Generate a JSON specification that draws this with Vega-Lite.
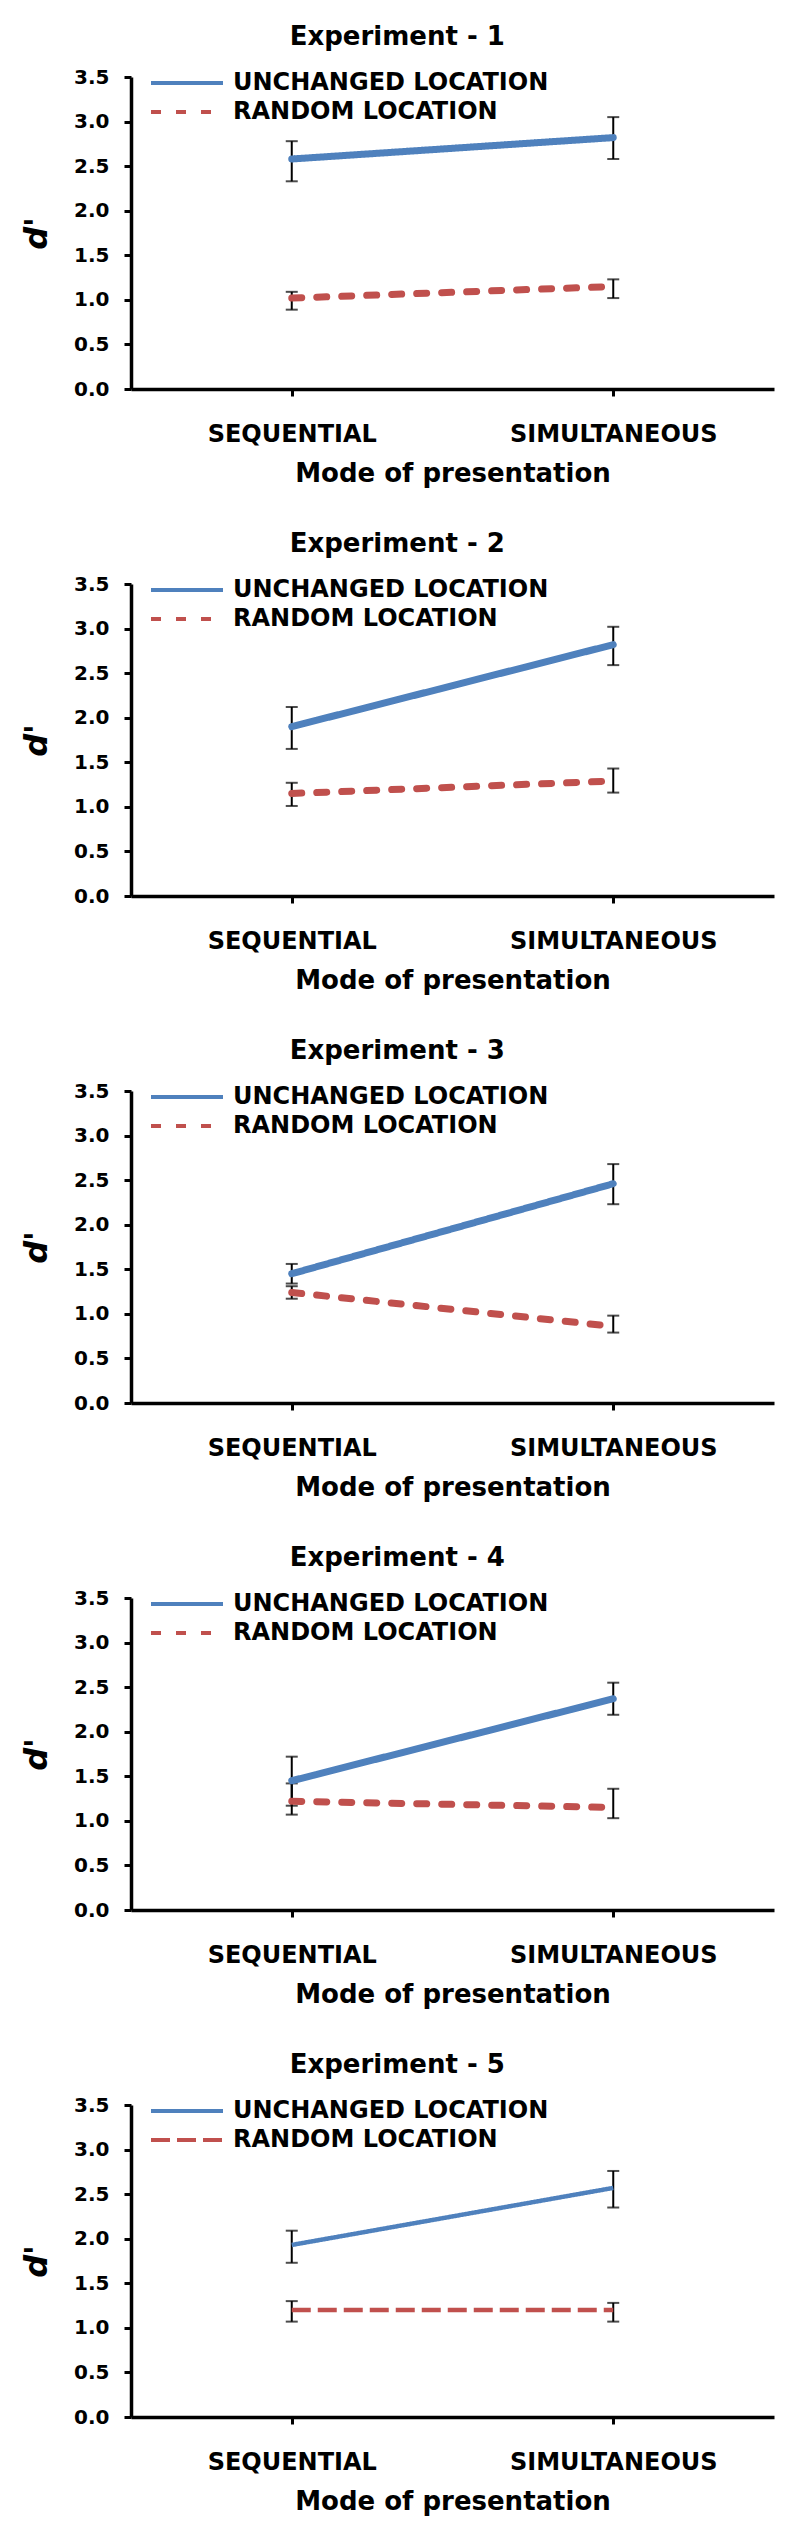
{
  "$schema": "https://vega.github.io/schema/vega-lite/v6.json",
  "padding": {"left": 20, "top": 24, "right": 5, "bottom": 5},
  "datasets": {
    "dprime": [
      {"experiment": 1, "mode": "SEQUENTIAL", "condition": "UNCHANGED LOCATION", "d": 2.58, "lo": 2.33, "hi": 2.78},
      {"experiment": 1, "mode": "SIMULTANEOUS", "condition": "UNCHANGED LOCATION", "d": 2.82, "lo": 2.58, "hi": 3.05},
      {"experiment": 1, "mode": "SEQUENTIAL", "condition": "RANDOM LOCATION", "d": 1.02, "lo": 0.89, "hi": 1.09},
      {"experiment": 1, "mode": "SIMULTANEOUS", "condition": "RANDOM LOCATION", "d": 1.15, "lo": 1.02, "hi": 1.23},
      {"experiment": 2, "mode": "SEQUENTIAL", "condition": "UNCHANGED LOCATION", "d": 1.9, "lo": 1.65, "hi": 2.12},
      {"experiment": 2, "mode": "SIMULTANEOUS", "condition": "UNCHANGED LOCATION", "d": 2.82, "lo": 2.59, "hi": 3.02},
      {"experiment": 2, "mode": "SEQUENTIAL", "condition": "RANDOM LOCATION", "d": 1.15, "lo": 1.01, "hi": 1.27},
      {"experiment": 2, "mode": "SIMULTANEOUS", "condition": "RANDOM LOCATION", "d": 1.29, "lo": 1.16, "hi": 1.43},
      {"experiment": 3, "mode": "SEQUENTIAL", "condition": "UNCHANGED LOCATION", "d": 1.45, "lo": 1.34, "hi": 1.56},
      {"experiment": 3, "mode": "SIMULTANEOUS", "condition": "UNCHANGED LOCATION", "d": 2.46, "lo": 2.23, "hi": 2.68},
      {"experiment": 3, "mode": "SEQUENTIAL", "condition": "RANDOM LOCATION", "d": 1.24, "lo": 1.17, "hi": 1.31},
      {"experiment": 3, "mode": "SIMULTANEOUS", "condition": "RANDOM LOCATION", "d": 0.86, "lo": 0.79, "hi": 0.98},
      {"experiment": 4, "mode": "SEQUENTIAL", "condition": "UNCHANGED LOCATION", "d": 1.45, "lo": 1.17, "hi": 1.72},
      {"experiment": 4, "mode": "SIMULTANEOUS", "condition": "UNCHANGED LOCATION", "d": 2.37, "lo": 2.19, "hi": 2.55},
      {"experiment": 4, "mode": "SEQUENTIAL", "condition": "RANDOM LOCATION", "d": 1.22, "lo": 1.07, "hi": 1.42},
      {"experiment": 4, "mode": "SIMULTANEOUS", "condition": "RANDOM LOCATION", "d": 1.15, "lo": 1.03, "hi": 1.36},
      {"experiment": 5, "mode": "SEQUENTIAL", "condition": "UNCHANGED LOCATION", "d": 1.93, "lo": 1.73, "hi": 2.09},
      {"experiment": 5, "mode": "SIMULTANEOUS", "condition": "UNCHANGED LOCATION", "d": 2.57, "lo": 2.35, "hi": 2.76},
      {"experiment": 5, "mode": "SEQUENTIAL", "condition": "RANDOM LOCATION", "d": 1.2, "lo": 1.07, "hi": 1.3},
      {"experiment": 5, "mode": "SIMULTANEOUS", "condition": "RANDOM LOCATION", "d": 1.2, "lo": 1.07, "hi": 1.28}
    ]
  },
  "config": {
    "font": "DejaVu Sans",
    "view": {"stroke": null},
    "concat": {"spacing": 45},
    "title": {"fontSize": 26, "fontWeight": "bold", "color": "black", "frame": "bounds", "anchor": "middle", "offset": 17},
    "axis": {
      "labelFontWeight": "bold", "labelColor": "black",
      "titleFontWeight": "bold", "titleColor": "black",
      "domainColor": "black", "tickColor": "black", "grid": false,
      "domainWidth": 3.5, "tickWidth": 3, "tickSize": 7, "labelLimit": 400
    },
    "axisX": {"labelFontSize": 24, "labelPadding": 26, "titleFontSize": 26, "titlePadding": 14, "labelAngle": 0},
    "axisY": {"labelFontSize": 20, "labelPadding": 15, "titleFontSize": 32, "titleFontStyle": "italic", "titlePadding": 20},
    "legend": {
      "title": null, "labelFontSize": 24, "labelFontWeight": "bold", "labelColor": "black", "labelLimit": 500,
      "symbolType": "M-3,0H3", "symbolSize": 576, "symbolStrokeWidth": 4,
      "labelOffset": 32, "rowPadding": 3, "padding": 0
    },
    "tick": {"color": "black", "thickness": 2, "size": 12},
    "rule": {"color": "black", "strokeWidth": 2}
  },
  "resolve": {
    "scale": {"color": "independent", "strokeDash": "independent"},
    "legend": {"color": "independent", "strokeDash": "independent"}
  },
  "vconcat": [
    {
      "title": "Experiment - 1",
      "width": 643, "height": 312,
      "data": {"name": "dprime"},
      "transform": [{"filter": "datum.experiment == 1"}],
      "encoding": {
        "x": {"field": "mode", "type": "nominal", "title": "Mode of presentation", "scale": {"type": "point", "padding": 0.5}}
      },
      "layer": [
        {"mark": "rule", "encoding": {
          "y": {"field": "lo", "type": "quantitative", "title": "d'", "scale": {"domain": [0, 3.5], "nice": false}, "axis": {"format": ".1f", "tickCount": 8}},
          "y2": {"field": "hi"}}},
        {"mark": "tick", "encoding": {"y": {"field": "lo", "type": "quantitative", "title": "d'"}}},
        {"mark": "tick", "encoding": {"y": {"field": "hi", "type": "quantitative", "title": "d'"}}},
        {"mark": {"type": "line", "strokeWidth": 7, "strokeCap": "round"}, "encoding": {
          "y": {"field": "d", "type": "quantitative", "title": "d'"},
          "color": {"field": "condition", "type": "nominal", "scale": {"domain": ["UNCHANGED LOCATION", "RANDOM LOCATION"], "range": ["#4f81bd", "#c0504d"]},
            "legend": {"orient": "none", "legendX": 42, "legendY": -8, "encode": {"symbols": {"update": {"strokeDash": {"signal": "datum.value == 'RANDOM LOCATION' ? [11, 4] : null"}, "strokeCap": {"value": "butt"}, "strokeWidth": {"value": 4}}}}}},
          "strokeDash": {"field": "condition", "type": "nominal", "scale": {"domain": ["UNCHANGED LOCATION", "RANDOM LOCATION"], "range": [[1, 0], [10, 15]]}, "legend": null}
        }}
      ]
    },
    {
      "title": "Experiment - 2",
      "width": 643, "height": 312,
      "data": {"name": "dprime"},
      "transform": [{"filter": "datum.experiment == 2"}],
      "encoding": {
        "x": {"field": "mode", "type": "nominal", "title": "Mode of presentation", "scale": {"type": "point", "padding": 0.5}}
      },
      "layer": [
        {"mark": "rule", "encoding": {
          "y": {"field": "lo", "type": "quantitative", "title": "d'", "scale": {"domain": [0, 3.5], "nice": false}, "axis": {"format": ".1f", "tickCount": 8}},
          "y2": {"field": "hi"}}},
        {"mark": "tick", "encoding": {"y": {"field": "lo", "type": "quantitative", "title": "d'"}}},
        {"mark": "tick", "encoding": {"y": {"field": "hi", "type": "quantitative", "title": "d'"}}},
        {"mark": {"type": "line", "strokeWidth": 7, "strokeCap": "round"}, "encoding": {
          "y": {"field": "d", "type": "quantitative", "title": "d'"},
          "color": {"field": "condition", "type": "nominal", "scale": {"domain": ["UNCHANGED LOCATION", "RANDOM LOCATION"], "range": ["#4f81bd", "#c0504d"]},
            "legend": {"orient": "none", "legendX": 42, "legendY": -8, "encode": {"symbols": {"update": {"strokeDash": {"signal": "datum.value == 'RANDOM LOCATION' ? [11, 4] : null"}, "strokeCap": {"value": "butt"}, "strokeWidth": {"value": 4}}}}}},
          "strokeDash": {"field": "condition", "type": "nominal", "scale": {"domain": ["UNCHANGED LOCATION", "RANDOM LOCATION"], "range": [[1, 0], [10, 15]]}, "legend": null}
        }}
      ]
    },
    {
      "title": "Experiment - 3",
      "width": 643, "height": 312,
      "data": {"name": "dprime"},
      "transform": [{"filter": "datum.experiment == 3"}],
      "encoding": {
        "x": {"field": "mode", "type": "nominal", "title": "Mode of presentation", "scale": {"type": "point", "padding": 0.5}}
      },
      "layer": [
        {"mark": "rule", "encoding": {
          "y": {"field": "lo", "type": "quantitative", "title": "d'", "scale": {"domain": [0, 3.5], "nice": false}, "axis": {"format": ".1f", "tickCount": 8}},
          "y2": {"field": "hi"}}},
        {"mark": "tick", "encoding": {"y": {"field": "lo", "type": "quantitative", "title": "d'"}}},
        {"mark": "tick", "encoding": {"y": {"field": "hi", "type": "quantitative", "title": "d'"}}},
        {"mark": {"type": "line", "strokeWidth": 7, "strokeCap": "round"}, "encoding": {
          "y": {"field": "d", "type": "quantitative", "title": "d'"},
          "color": {"field": "condition", "type": "nominal", "scale": {"domain": ["UNCHANGED LOCATION", "RANDOM LOCATION"], "range": ["#4f81bd", "#c0504d"]},
            "legend": {"orient": "none", "legendX": 42, "legendY": -8, "encode": {"symbols": {"update": {"strokeDash": {"signal": "datum.value == 'RANDOM LOCATION' ? [11, 4] : null"}, "strokeCap": {"value": "butt"}, "strokeWidth": {"value": 4}}}}}},
          "strokeDash": {"field": "condition", "type": "nominal", "scale": {"domain": ["UNCHANGED LOCATION", "RANDOM LOCATION"], "range": [[1, 0], [10, 15]]}, "legend": null}
        }}
      ]
    },
    {
      "title": "Experiment - 4",
      "width": 643, "height": 312,
      "data": {"name": "dprime"},
      "transform": [{"filter": "datum.experiment == 4"}],
      "encoding": {
        "x": {"field": "mode", "type": "nominal", "title": "Mode of presentation", "scale": {"type": "point", "padding": 0.5}}
      },
      "layer": [
        {"mark": "rule", "encoding": {
          "y": {"field": "lo", "type": "quantitative", "title": "d'", "scale": {"domain": [0, 3.5], "nice": false}, "axis": {"format": ".1f", "tickCount": 8}},
          "y2": {"field": "hi"}}},
        {"mark": "tick", "encoding": {"y": {"field": "lo", "type": "quantitative", "title": "d'"}}},
        {"mark": "tick", "encoding": {"y": {"field": "hi", "type": "quantitative", "title": "d'"}}},
        {"mark": {"type": "line", "strokeWidth": 7, "strokeCap": "round"}, "encoding": {
          "y": {"field": "d", "type": "quantitative", "title": "d'"},
          "color": {"field": "condition", "type": "nominal", "scale": {"domain": ["UNCHANGED LOCATION", "RANDOM LOCATION"], "range": ["#4f81bd", "#c0504d"]},
            "legend": {"orient": "none", "legendX": 42, "legendY": -8, "encode": {"symbols": {"update": {"strokeDash": {"signal": "datum.value == 'RANDOM LOCATION' ? [11, 4] : null"}, "strokeCap": {"value": "butt"}, "strokeWidth": {"value": 4}}}}}},
          "strokeDash": {"field": "condition", "type": "nominal", "scale": {"domain": ["UNCHANGED LOCATION", "RANDOM LOCATION"], "range": [[1, 0], [10, 15]]}, "legend": null}
        }}
      ]
    },
    {
      "title": "Experiment - 5",
      "width": 643, "height": 312,
      "data": {"name": "dprime"},
      "transform": [{"filter": "datum.experiment == 5"}],
      "encoding": {
        "x": {"field": "mode", "type": "nominal", "title": "Mode of presentation", "scale": {"type": "point", "padding": 0.5}}
      },
      "layer": [
        {"mark": "rule", "encoding": {
          "y": {"field": "lo", "type": "quantitative", "title": "d'", "scale": {"domain": [0, 3.5], "nice": false}, "axis": {"format": ".1f", "tickCount": 8}},
          "y2": {"field": "hi"}}},
        {"mark": "tick", "encoding": {"y": {"field": "lo", "type": "quantitative", "title": "d'"}}},
        {"mark": "tick", "encoding": {"y": {"field": "hi", "type": "quantitative", "title": "d'"}}},
        {"mark": {"type": "line", "strokeWidth": 4.5}, "encoding": {
          "y": {"field": "d", "type": "quantitative", "title": "d'"},
          "color": {"field": "condition", "type": "nominal", "scale": {"domain": ["UNCHANGED LOCATION", "RANDOM LOCATION"], "range": ["#4f81bd", "#c0504d"]},
            "legend": {"orient": "none", "legendX": 42, "legendY": -8, "encode": {"symbols": {"update": {"strokeDash": {"signal": "datum.value == 'RANDOM LOCATION' ? [11, 4] : null"}, "strokeCap": {"value": "butt"}, "strokeWidth": {"value": 4}}}}}},
          "strokeDash": {"field": "condition", "type": "nominal", "scale": {"domain": ["UNCHANGED LOCATION", "RANDOM LOCATION"], "range": [[1, 0], [19, 7]]}, "legend": null}
        }}
      ]
    }
  ]
}
